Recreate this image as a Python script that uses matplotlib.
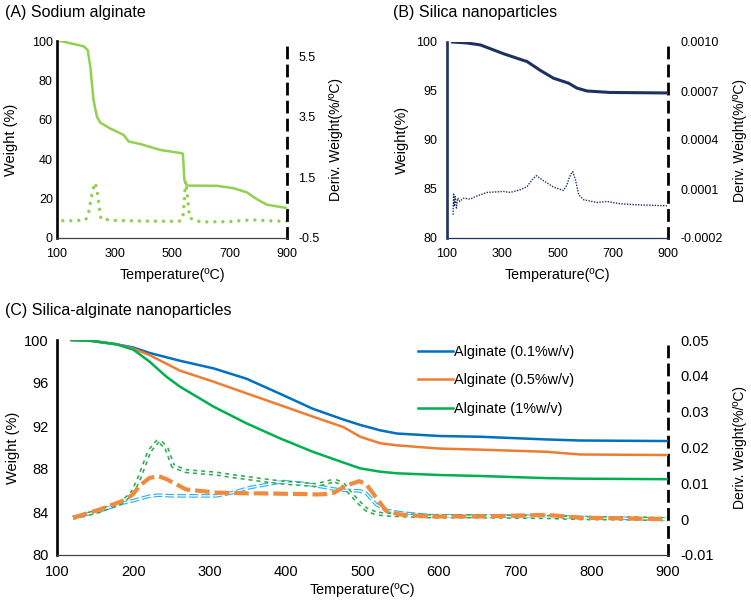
import numpy as np
import matplotlib
matplotlib.use("Agg")
import matplotlib.pyplot as plt

plt.rcParams["font.family"] = ["Liberation Sans", "DejaVu Sans"]

# (A) sodium alginate
t_a = [112, 193, 207, 216, 227, 239, 251, 285, 332, 349, 390, 459, 535, 538, 543, 552, 656, 714, 761, 795, 830, 900]
w_a = [100, 97.3, 95.3, 86.8, 70, 61.5, 58.5, 55.6, 52.3, 49, 47.7, 44.7, 43, 42.7, 29.5, 26.6, 26.5, 25.3, 23.1, 19.7, 16.9, 15.2]
td_a = [120, 160, 200, 210, 218, 225, 233, 239, 245, 253, 300, 400, 500, 529, 538, 543, 547, 554, 561, 600, 700, 778, 850, 900]
d_a = [0.07, 0.07, 0.1, 0.33, 0.77, 1.1, 1.32, 1.07, 0.66, 0.13, 0.08, 0.06, 0.05, 0.06, 0.2, 0.77, 1.37, 0.88, 0.16, 0.03, 0.04, 0.1, 0.06, 0.05]

# (B) silica nanoparticles
t_b = [120, 172, 221, 305, 390, 438, 486, 540, 570, 607, 691, 900]
w_b = [100, 99.9, 99.7, 98.8, 98.0, 97.1, 96.3, 95.8, 95.3, 95.0, 94.85, 94.8]
td_b = [122, 124, 126, 130, 134, 139, 146, 160, 184, 209, 245, 305, 329, 365, 390, 408, 423, 450, 486, 522, 534,
        544, 555, 565, 577, 595, 643, 679, 727, 788, 896]
d_b = [-0.0000576, 0.0000746, -0.000007, 0.000054, -0.0000169, 0.0000441, 0.0000237, 0.000044, 0.000038, 0.000058,
       0.000079, 0.000085, 0.000079, 0.000095, 0.000115, 0.000156, 0.000182, 0.00015, 0.000111, 0.000091, 0.000125,
       0.000176, 0.000207, 0.000156, 0.000064, 0.000034, 0.0000176, 0.0000237, 0.0000095, 0.0000034, -0.0000027]

# (C) silica-alginate nanoparticles
t_c = [119, 143, 178, 200, 221, 243, 261, 305, 348, 392, 435, 475, 497, 523, 545, 601, 654, 741, 785, 900]
w_c01 = [100, 99.94, 99.6, 99.3, 98.8, 98.4, 98.07, 97.36, 96.4, 95.0, 93.6, 92.6, 92.1, 91.6, 91.3, 91.07, 91.0,
         90.75, 90.65, 90.6]
w_c05 = [100, 99.94, 99.6, 99.2, 98.6, 97.8, 97.15, 96.12, 95.04, 93.95, 92.87, 91.9, 91.0, 90.4, 90.2, 89.9, 89.8,
         89.6, 89.35, 89.3]
w_c1 = [100, 99.94, 99.6, 99.1, 98.0, 96.6, 95.66, 93.8, 92.25, 90.85, 89.6, 88.6, 88.06, 87.75, 87.6, 87.44, 87.35,
        87.15, 87.1, 87.05]

td_c = [121, 156, 186, 199, 208, 221, 233, 243, 252, 269, 309, 330, 352, 365, 396, 426, 439, 453, 463, 474, 483, 496,
        505, 518, 531, 549, 588, 654, 741, 785, 850, 900]
d_c01 = [0.0004, 0.0023, 0.0045, 0.0051, 0.0057, 0.0064, 0.0067, 0.0066, 0.0065, 0.0065, 0.0065, 0.0074, 0.0088, 0.0093,
         0.0105, 0.0099, 0.0093, 0.0088, 0.0084, 0.0081, 0.008, 0.0079, 0.0072, 0.0041, 0.0025, 0.0018, 0.001, 0.0009,
         0.0008, 0.0005, 0.0002, 0.0001]
d_c05 = [0.0004, 0.0027, 0.0051, 0.0068, 0.0093, 0.0115, 0.012, 0.0112, 0.0102, 0.0083, 0.0074, 0.0073, 0.0072, 0.0072,
         0.0071, 0.007, 0.0069, 0.007, 0.0074, 0.0088, 0.0097, 0.0106, 0.0097, 0.006, 0.0023, 0.0013, 0.00075, 0.00075,
         0.0012, 0.0004, 0.0002, 0.0]
d_c1 = [0.0004, 0.0023, 0.0048, 0.0075, 0.0116, 0.019, 0.022, 0.02, 0.0148, 0.0134, 0.0127, 0.012, 0.0114, 0.011,
        0.0102, 0.0097, 0.0095, 0.0102, 0.0108, 0.0099, 0.0075, 0.0045, 0.0027, 0.0016, 0.0013, 0.0011, 0.0008, 0.0008,
        0.0006, 0.0003, 0.0002, 0.0]

W, H = 751, 602
fig = plt.figure(figsize=(W / 100, H / 100), dpi=100)


def px_axes(l, t, r, b):
    return fig.add_axes([l / W, 1 - b / H, (r - l) / W, (b - t) / H])


def style(ax, ax2, left_col="black", bot_col="#404040"):
    for s in ["top", "right"]:
        ax.spines[s].set_visible(False)
    ax.spines["left"].set_linewidth(1.9)
    ax.spines["left"].set_color(left_col)
    ax.spines["bottom"].set_linewidth(0.9)
    ax.spines["bottom"].set_color(bot_col)
    for s in ["top", "left", "bottom"]:
        ax2.spines[s].set_visible(False)
    ax2.spines["right"].set_linewidth(2.0)
    ax2.spines["right"].set_linestyle((0, (3.6, 2.9)))
    ax2.spines["right"].set_color("black")
    ax.set_zorder(ax2.get_zorder() + 1)
    ax.patch.set_visible(False)


def labels(ax, ax2, ylab, xy_x, xy_y, y2_x, fs_y=10.5):
    ax.set_xlabel("Temperature(ºC)", fontsize=10.3, va="center")
    ax.xaxis.set_label_coords(0.5, xy_y)
    ax.set_ylabel(ylab, fontsize=fs_y, va="center")
    ax.yaxis.set_label_coords(xy_x, 0.5)
    ax2.set_ylabel("Deriv. Weight(%/ºC)", fontsize=10, va="center")
    ax2.yaxis.set_label_coords(y2_x, 0.5)


# ---------------- A ----------------
axA = px_axes(57, 41, 287, 238)
axA2 = axA.twinx()
style(axA, axA2)
axA.plot(t_a, w_a, color="#92D050", lw=1.8)
axA2.plot(td_a, d_a, color="#92D050", lw=2.5, linestyle=(0, (0.01, 2.3)), dash_capstyle="round")
axA.set_xlim(100, 900)
axA.set_ylim(0, 100)
axA2.set_ylim(-0.5, 6.0)
axA.set_xticks([100, 300, 500, 700, 900])
axA.set_yticks([0, 20, 40, 60, 80, 100])
axA2.set_yticks([-0.5, 1.5, 3.5, 5.5])
axA2.set_yticklabels(["-0.5", "1.5", "3.5", "5.5"])
axA.tick_params(length=0, labelsize=9, pad=7)
axA.tick_params(axis="y", pad=3)
axA2.tick_params(length=0, labelsize=9, pad=8)
labels(axA, axA2, "Weight (%)", -0.2, -0.188, 1.213)
fig.text(5 / W, 1 - 12 / H, "(A) Sodium alginate", fontsize=11.5, va="center", ha="left")

# ---------------- B ----------------
navy = "#1F3160"
axB = px_axes(447, 42, 668, 238)
axB2 = axB.twinx()
style(axB, axB2, left_col=navy, bot_col=navy)
axB.plot(t_b, w_b, color=navy, lw=2.2)
axB2.plot(td_b, d_b, color=navy, lw=1.0, linestyle=(0, (1, 1)))
axB.set_xlim(100, 900)
axB.set_ylim(80, 100)
axB2.set_ylim(-0.0002, 0.0010)
axB.set_xticks([100, 300, 500, 700, 900])
axB.set_yticks([80, 85, 90, 95, 100])
axB2.set_yticks([-0.0002, 0.0001, 0.0004, 0.0007, 0.0010])
axB2.set_yticklabels(["-0.0002", "0.0001", "0.0004", "0.0007", "0.0010"])
axB.tick_params(length=0, labelsize=9, pad=7)
axB.tick_params(axis="y", pad=7)
axB2.tick_params(length=0, labelsize=9, pad=9)
labels(axB, axB2, "Weight(%)", -0.204, -0.189, 1.326)
fig.text(393 / W, 1 - 12 / H, "(B) Silica nanoparticles", fontsize=11.5, va="center", ha="left")

# ---------------- C ----------------
axC = px_axes(57, 340, 668, 555)
axC2 = axC.twinx()
style(axC, axC2)
l1, = axC.plot(t_c, w_c01, color="#0070C0", lw=1.8, label="Alginate (0.1%w/v)")
l2, = axC.plot(t_c, w_c05, color="#ED7D31", lw=1.8, label="Alginate (0.5%w/v)")
l3, = axC.plot(t_c, w_c1, color="#00B050", lw=1.8, label="Alginate (1%w/v)")

# derivative curves (double-line look)
axC2.plot(td_c, d_c01, color="#2DB5F0", lw=2.6, linestyle=(0, (2.5, 0.8)))
axC2.plot(td_c, d_c01, color="white", lw=0.9, linestyle="-")
axC2.plot(td_c, d_c1, color="#2EAA50", lw=3.2, linestyle=(0, (0.9, 0.9)))
axC2.plot(td_c, d_c1, color="white", lw=0.9, linestyle="-")
axC2.plot(td_c, d_c05, color="#F08A3E", lw=3.0, linestyle=(0, (3.5, 1.2)))

axC.set_xlim(100, 900)
axC.set_ylim(80, 100)
axC2.set_ylim(-0.01, 0.05)
axC.set_xticks(np.arange(100, 901, 100))
axC.set_yticks([80, 84, 88, 92, 96, 100])
axC2.set_yticks([-0.01, 0, 0.01, 0.02, 0.03, 0.04, 0.05])
axC2.set_yticklabels(["-0.01", "0", "0.01", "0.02", "0.03", "0.04", "0.05"])
axC.tick_params(length=0, labelsize=10.5, pad=7)
axC.tick_params(axis="y", pad=6)
axC2.tick_params(length=0, labelsize=10.5, pad=9)
labels(axC, axC2, "Weight (%)", -0.072, -0.163, 1.118)
axC.legend(handles=[l1, l2, l3], loc="upper left", bbox_to_anchor=(0.591, 0.977), frameon=False,
           fontsize=10.4, handlelength=2.4, handletextpad=0.1, labelspacing=1.0, borderpad=0, borderaxespad=0)
fig.text(5 / W, 1 - 310 / H, "(C) Silica-alginate nanoparticles", fontsize=11.5, va="center", ha="left")

fig.savefig("out.png", dpi=100)
